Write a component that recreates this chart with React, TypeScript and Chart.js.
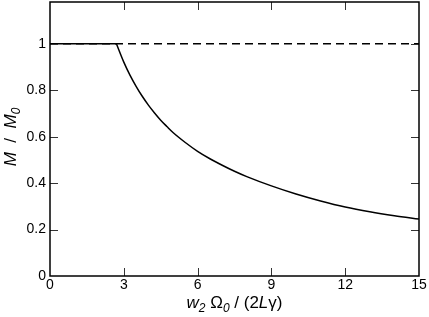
import React, { useEffect, useRef } from "react";
import { Chart, registerables } from "chart.js";

Chart.register(...registerables);

// Flat part (M/M0 = 1 below threshold)
const flatX = [0, 2.7];
const flatY = [1, 1];
// Decreasing part above threshold
const curveX = [2.7, 3.0, 3.25, 3.5, 3.75, 4.0, 4.25, 4.5, 4.75, 5.0, 5.5, 6.0, 6.5, 7.0, 7.5, 8.0, 9.0, 10, 11, 12, 13, 14, 15];
const curveY = [1, 0.921, 0.865, 0.817, 0.774, 0.736, 0.702, 0.671, 0.644, 0.618, 0.575, 0.537, 0.505, 0.477, 0.451, 0.428, 0.388, 0.353, 0.323, 0.297, 0.2765, 0.2595, 0.245];
// Reference dashed line
const refX = [0, 15];
const refY = [1, 1];

const xTicks = [0, 3, 6, 9, 12, 15];
const yTicks = [0, 0.2, 0.4, 0.6, 0.8, 1];

const FONT = "'Liberation Sans', Arial, Helvetica, sans-serif";

type Seg = { t: string; italic?: boolean; sub?: boolean };

const xTitle: Seg[] = [
  { t: "w", italic: true },
  { t: "2", italic: true, sub: true },
  { t: " Ω" },
  { t: "0", italic: true, sub: true },
  { t: " / (2" },
  { t: "L", italic: true },
  { t: "γ" },
  { t: ")" },
];
const yTitle: Seg[] = [
  { t: "M", italic: true },
  { t: "  /  " },
  { t: "M", italic: true },
  { t: "0", italic: true, sub: true },
];

function segFont(s: Seg) {
  const size = s.sub ? 12 : 17;
  return `${s.italic ? "italic " : ""}${size}px ${FONT}`;
}

function drawSegs(ctx: CanvasRenderingContext2D, segs: Seg[], cx: number, baseline: number) {
  let total = 0;
  const widths = segs.map((s) => {
    ctx.font = segFont(s);
    const w = ctx.measureText(s.t).width;
    total += w;
    return w;
  });
  let x = cx - total / 2;
  ctx.textBaseline = "alphabetic";
  ctx.textAlign = "left";
  segs.forEach((s, i) => {
    ctx.font = segFont(s);
    ctx.fillText(s.t, x, baseline + (s.sub ? 4 : 0));
    x += widths[i];
  });
}

const framePlugin = {
  id: "frame",
  afterDraw(chart: any) {
    const { ctx, chartArea } = chart;
    const { left, right, top, bottom } = chartArea;
    const xs = chart.scales.x;
    const ys = chart.scales.y;
    ctx.save();
    // ticks
    ctx.strokeStyle = "#333";
    ctx.lineWidth = 1;
    const tl = 8;
    ctx.beginPath();
    xTicks.forEach((v) => {
      if (v === 0 || v === 15) return;
      const px = Math.round(xs.getPixelForValue(v)) + 0.5;
      ctx.moveTo(px, bottom);
      ctx.lineTo(px, bottom - tl);
      ctx.moveTo(px, top);
      ctx.lineTo(px, top + tl);
    });
    yTicks.forEach((v) => {
      if (v === 0) return;
      const py = Math.round(ys.getPixelForValue(v)) + 0.5;
      ctx.moveTo(left, py);
      ctx.lineTo(left + tl, py);
      ctx.moveTo(right, py);
      ctx.lineTo(right - tl, py);
    });
    ctx.stroke();
    // frame
    ctx.strokeStyle = "#000";
    ctx.lineWidth = 1.5;
    ctx.strokeRect(left, top, right - left, bottom - top);
    // titles
    ctx.fillStyle = "#000";
    drawSegs(ctx, xTitle, (left + right) / 2, 308);
    ctx.save();
    ctx.translate(16, 137);
    ctx.rotate(-Math.PI / 2);
    drawSegs(ctx, yTitle, 0, 0);
    ctx.restore();
    ctx.restore();
  },
};

export default function App() {
  const ref = useRef<HTMLCanvasElement | null>(null);
  useEffect(() => {
    if (!ref.current) return;
    const chart = new Chart(ref.current, {
      type: "scatter",
      data: {
        datasets: [
          {
            data: refX.map((x, i) => ({ x, y: refY[i] })),
            showLine: true,
            borderColor: "#000",
            borderWidth: 1.5,
            borderDash: [8, 5],
            pointRadius: 0,
          },
          {
            data: flatX.map((x, i) => ({ x, y: flatY[i] })),
            showLine: true,
            borderColor: "#000",
            borderWidth: 1.5,
            pointRadius: 0,
          },
          {
            data: curveX.map((x, i) => ({ x, y: curveY[i] })),
            showLine: true,
            borderColor: "#000",
            borderWidth: 1.5,
            pointRadius: 0,
            cubicInterpolationMode: "monotone",
          },
        ],
      },
      options: {
        animation: false,
        responsive: false,
        devicePixelRatio: 1,
        layout: { padding: { left: 0, top: 2, right: 10, bottom: 0 } },
        plugins: { legend: { display: false }, tooltip: { enabled: false } },
        scales: {
          x: {
            type: "linear",
            min: 0,
            max: 15,
            afterBuildTicks: (s: any) => {
              s.ticks = xTicks.map((v) => ({ value: v }));
            },
            afterFit: (s: any) => {
              s.height = 41;
              s.paddingLeft = 0;
              s.paddingRight = 0;
            },
            grid: { display: false, drawTicks: false },
            border: { display: false },
            ticks: {
              autoSkip: false,
              maxRotation: 0,
              padding: 1,
              color: "#000",
              font: { family: FONT, size: 14 },
              callback: (v: any) => String(v),
            },
          },
          y: {
            type: "linear",
            min: 0,
            max: 1.18,
            afterBuildTicks: (s: any) => {
              s.ticks = yTicks.map((v) => ({ value: v }));
            },
            afterFit: (s: any) => {
              s.width = 50;
              s.paddingTop = 0;
              s.paddingBottom = 0;
            },
            grid: { display: false, drawTicks: false },
            border: { display: false },
            ticks: {
              autoSkip: false,
              padding: 4,
              color: "#000",
              font: { family: FONT, size: 14 },
              callback: (v: any) => String(Number(Number(v).toFixed(1))),
            },
          },
        },
      },
      plugins: [framePlugin],
    });
    return () => chart.destroy();
  }, []);
  return (
    <div style={{ position: "absolute", left: 0, top: 0, width: 429, height: 317 }}>
      <canvas ref={ref} width={429} height={317} />
    </div>
  );
}
